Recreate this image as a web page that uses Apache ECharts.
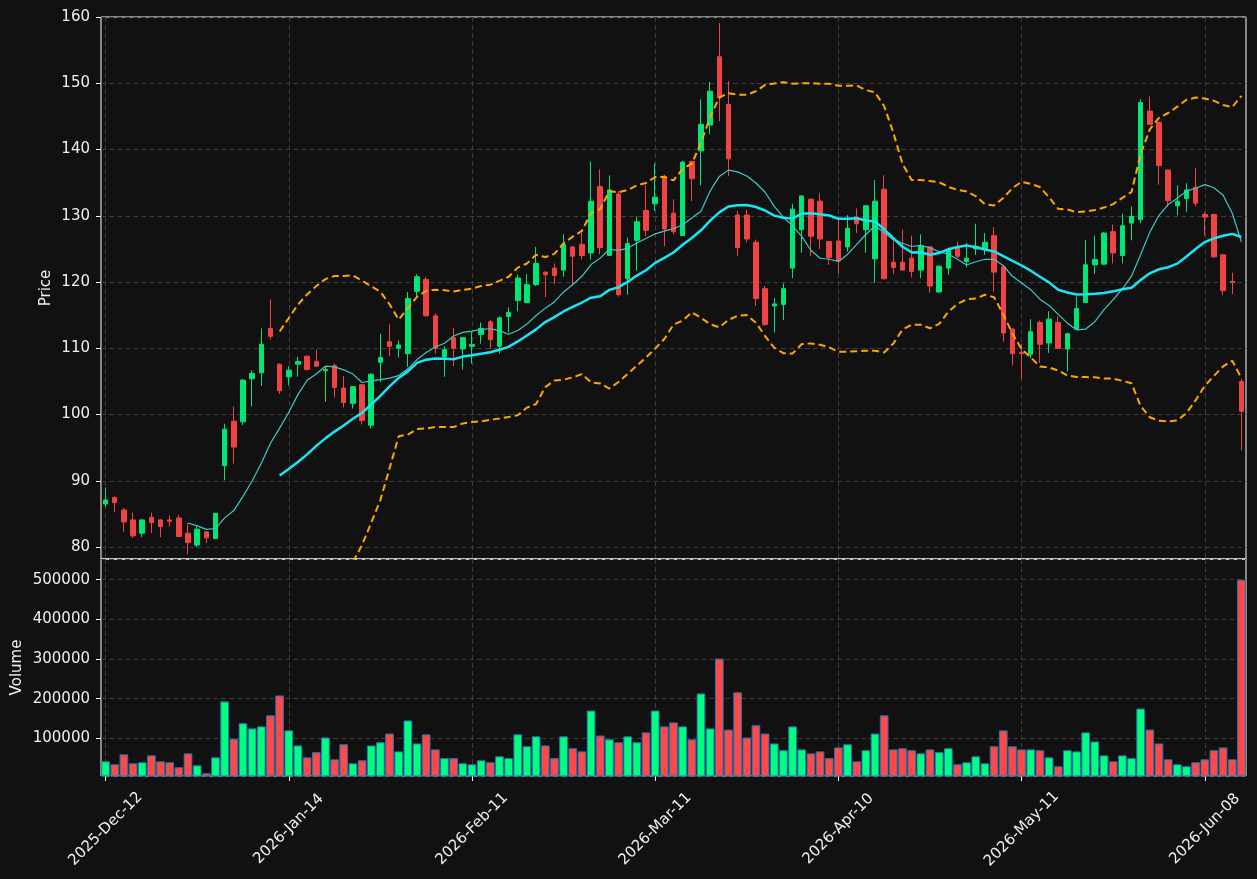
<!DOCTYPE html>
<html>
<head>
<meta charset="utf-8">
<script src="https://cdn.jsdelivr.net/npm/echarts@6/dist/echarts.min.js"></script>
<style>
html, body { margin: 0; padding: 0; background: #111111; }
#chart { width: 1257px; height: 879px; }
</style>
</head>
<body>
<div id="chart"></div>
<script>
// x axis tick labels, one every 20 sessions
const tickLabels = ['2025-Dec-12', '2026-Jan-14', '2026-Feb-11', '2026-Mar-11', '2026-Apr-10', '2026-May-11', '2026-Jun-08'];
const startDate = [2025, 11, 12];
const holidays = ['2025-12-25', '2025-12-26', '2026-01-01', '2026-04-03', '2026-04-06', '2026-05-01'];

const opens = [
  86.5, 87.5, 85.6, 84.1, 82.1, 84.5, 84.1, 84.1, 84.4, 82.1,
  80.3, 82.3, 81.3, 92.3, 99.0, 98.9, 105.4, 106.3, 113.0, 107.6,
  105.7, 107.6, 108.8, 108.0, 106.6, 107.4, 104.0, 101.7, 104.5, 98.4,
  107.9, 111.0, 110.0, 109.2, 118.6, 120.4, 114.9, 108.7, 111.6, 109.9,
  110.3, 112.1, 114.0, 110.3, 114.8, 117.2, 116.9, 119.6, 121.5, 122.1,
  121.8, 125.3, 125.7, 124.4, 134.4, 124.0, 133.3, 120.5, 126.3, 130.8,
  131.8, 135.7, 130.4, 127.0, 138.2, 139.8, 143.7, 154.0, 146.8, 130.1,
  130.1, 126.0, 119.0, 116.4, 116.6, 122.1, 127.9, 132.5, 132.2, 126.1,
  126.2, 125.3, 129.8, 127.9, 123.5, 134.0, 123.0, 123.0, 123.6, 121.8,
  125.3, 118.5, 122.1, 125.2, 123.1, 125.0, 124.9, 127.0, 122.3, 112.9,
  109.4, 109.1, 113.9, 110.8, 113.9, 109.9, 112.9, 116.9, 122.6, 122.7,
  127.6, 124.0, 128.9, 129.4, 145.8, 144.1, 136.9, 131.5, 132.6, 134.3,
  130.2, 130.2, 124.1, 120.1, 105.0
];
const closes = [
  87.1, 86.7, 83.8, 81.7, 84.1, 83.7, 83.1, 83.9, 81.6, 80.7,
  82.7, 81.4, 85.1, 97.8, 95.1, 105.2, 106.2, 110.6, 111.8, 103.6,
  106.7, 108.0, 106.8, 107.3, 106.8, 104.1, 101.8, 104.2, 99.1, 106.1,
  108.6, 110.3, 110.5, 117.5, 120.8, 114.9, 110.0, 109.8, 110.0, 111.6,
  110.6, 113.0, 111.3, 114.6, 115.4, 120.6, 119.6, 122.8, 121.1, 121.0,
  125.7, 123.9, 124.0, 132.2, 125.2, 133.9, 118.1, 125.8, 129.1, 127.8,
  132.8, 128.0, 127.6, 138.1, 135.6, 143.8, 148.8, 147.8, 138.6, 125.2,
  126.5, 117.5, 113.6, 116.7, 119.0, 131.0, 133.0, 126.9, 126.5, 123.7,
  123.2, 128.1, 128.8, 131.5, 132.2, 120.5, 122.2, 121.8, 121.6, 125.4,
  119.4, 122.4, 124.9, 123.9, 123.6, 125.4, 126.0, 121.5, 112.3, 109.2,
  109.2, 112.5, 110.6, 114.4, 110.0, 112.2, 116.0, 122.6, 123.4, 127.4,
  124.4, 128.5, 129.9, 147.1, 143.8, 137.6, 132.3, 132.2, 133.9, 131.9,
  129.8, 123.8, 118.7, 119.9, 100.5
];
const highs = [
  89.0, 87.6, 85.9, 85.2, 84.2, 85.2, 84.2, 84.8, 84.9, 83.6,
  83.1, 82.4, 85.1, 98.6, 101.2, 105.3, 106.7, 113.0, 117.4, 107.7,
  107.3, 108.7, 108.9, 109.8, 107.3, 107.7, 105.8, 104.3, 104.6, 106.2,
  112.2, 113.6, 111.2, 118.5, 121.2, 120.8, 115.3, 110.3, 113.1, 111.7,
  112.5, 113.9, 114.3, 114.8, 116.2, 121.1, 121.2, 125.3, 121.6, 122.8,
  127.2, 125.4, 127.4, 138.2, 137.0, 136.1, 133.7, 126.7, 129.9, 134.6,
  137.9, 136.2, 132.5, 138.3, 138.3, 147.6, 150.2, 159.1, 150.3, 130.7,
  130.9, 126.4, 119.4, 117.6, 119.8, 131.8, 133.1, 132.6, 133.4, 126.2,
  129.6, 130.1, 131.1, 131.6, 135.4, 136.1, 126.2, 127.9, 127.0, 127.2,
  125.4, 122.5, 125.2, 126.1, 125.9, 128.8, 127.4, 128.3, 122.4, 113.0,
  110.7, 114.4, 114.2, 115.6, 114.8, 112.3, 117.8, 126.3, 127.0, 127.5,
  128.7, 130.3, 131.4, 147.6, 148.0, 144.2, 137.0, 134.6, 134.9, 137.2,
  130.6, 130.3, 124.2, 121.4, 105.4
];
const lows = [
  86.0, 85.3, 82.3, 81.4, 81.5, 82.1, 81.5, 83.1, 81.5, 78.9,
  80.0, 80.6, 81.2, 90.1, 92.6, 98.4, 101.2, 104.3, 111.3, 103.1,
  104.4, 105.7, 106.6, 107.2, 101.9, 102.6, 101.1, 100.9, 98.5, 97.9,
  104.9, 108.8, 108.6, 107.2, 117.8, 114.8, 109.2, 105.7, 107.3, 106.8,
  107.7, 110.7, 109.9, 109.2, 112.4, 115.6, 116.8, 119.4, 117.7, 119.7,
  120.8, 119.7, 123.4, 123.4, 124.2, 123.9, 117.8, 118.1, 121.7, 126.9,
  130.7, 125.4, 127.2, 127.0, 132.2, 134.6, 142.3, 144.3, 136.0, 123.9,
  126.0, 116.4, 113.4, 112.4, 114.3, 120.6, 124.4, 123.9, 125.0, 122.6,
  121.3, 124.6, 127.4, 124.4, 119.9, 120.4, 121.2, 121.7, 120.7, 120.6,
  118.4, 118.4, 121.1, 123.6, 122.2, 124.1, 124.1, 118.5, 111.0, 107.4,
  105.4, 108.5, 107.8, 109.3, 109.9, 106.5, 112.8, 116.8, 121.2, 122.6,
  122.8, 122.8, 126.3, 128.9, 143.7, 134.7, 131.4, 130.1, 130.6, 131.4,
  127.0, 123.7, 118.0, 118.2, 94.6
];
const volumes = [
  42000, 34500, 59600, 37000, 39600, 57000, 42000, 39600, 27000, 62000,
  32000, 12000, 52000, 193000, 99000, 138000, 125000, 130000, 158000, 208000,
  120000, 82000, 52000, 65000, 102000, 47000, 85000, 37000, 44600, 82000,
  90000, 112000, 67000, 145000, 87000, 110000, 72000, 50000, 50000, 37000,
  34500, 44600, 39600, 54600, 50000, 110000, 80000, 105000, 82000, 50000,
  105000, 75000, 67000, 170000, 107000, 97500, 90000, 105000, 90000, 115000,
  170000, 130000, 140000, 130000, 97500, 213000, 125000, 301000, 122000, 216000,
  102000, 133000, 112000, 87000, 70000, 130000, 72000, 62000, 67000, 50000,
  77000, 85000, 42000, 70000, 112000, 158000, 72000, 75000, 70000, 62000,
  72000, 65000, 75000, 34500, 39600, 54600, 37000, 80000, 120000, 80000,
  72000, 72000, 70000, 52000, 29500, 70000, 67000, 115000, 92000, 57000,
  42000, 57000, 50000, 175000, 122000, 87000, 47000, 34500, 29500, 39600,
  47000, 70000, 77000, 47000, 500000
];

const UP = '#00e676';
const DOWN = '#f04444';
const GRID_LINE = { color: '#3d3d3d', type: [5, 3], width: 1 };
const TEXT = '#f0f0f0';
const FONT = 15;

// trading session dates
const MONTHS = ['Jan', 'Feb', 'Mar', 'Apr', 'May', 'Jun', 'Jul', 'Aug', 'Sep', 'Oct', 'Nov', 'Dec'];
const dates = [];
(function () {
  const d = new Date(Date.UTC(startDate[0], startDate[1], startDate[2]));
  while (dates.length < closes.length) {
    const iso = d.toISOString().slice(0, 10);
    const wd = d.getUTCDay();
    if (wd !== 0 && wd !== 6 && holidays.indexOf(iso) < 0) {
      dates.push(d.getUTCFullYear() + '-' + MONTHS[d.getUTCMonth()] + '-' + iso.slice(8, 10));
    }
    d.setUTCDate(d.getUTCDate() + 1);
  }
})();

// rolling indicators from the closes
function rolling(n, fn) {
  return closes.map((_, i) => {
    if (i < n - 1) return null;
    const w = closes.slice(i - n + 1, i + 1);
    return +fn(w).toFixed(3);
  });
}
const mean = w => w.reduce((a, b) => a + b, 0) / w.length;
const std = w => {
  const m = mean(w);
  return Math.sqrt(w.reduce((a, b) => a + (b - m) * (b - m), 0) / (w.length - 1));
};
const ma10 = rolling(10, mean);
const ma20 = rolling(20, mean);
const bbUpper = rolling(20, w => mean(w) + 2 * std(w));
const bbLower = rolling(20, w => mean(w) - 2 * std(w));

const ohlc = opens.map((o, i) => [o, closes[i], lows[i], highs[i]]);
const volData = volumes.map((v, i) => ({
  value: v,
  itemStyle: { color: closes[i] >= opens[i] ? '#00ff80' : '#ff4848' }
}));

const chart = echarts.init(document.getElementById('chart'));
chart.setOption({
  backgroundColor: '#111111',
  animation: false,
  textStyle: { fontFamily: 'DejaVu Sans' },
  grid: [
    { left: 101, right: 11, top: 17, height: 542, show: true, borderColor: '#ffffff', borderWidth: 1, backgroundColor: 'transparent' },
    { left: 101, right: 11, top: 559, height: 217, show: true, borderColor: '#ffffff', borderWidth: 1, backgroundColor: 'transparent' }
  ],
  xAxis: [
    {
      type: 'category', gridIndex: 0, data: dates, boundaryGap: true,
      axisLine: { show: false }, axisTick: { show: false }, axisLabel: { show: false },
      splitLine: { show: true, interval: 19, alignWithLabel: true, lineStyle: GRID_LINE }
    },
    {
      type: 'category', gridIndex: 1, data: dates, boundaryGap: true,
      axisLine: { show: false },
      axisTick: { show: true, interval: 19, alignWithLabel: true, length: 5, lineStyle: { color: '#ffffff' } },
      axisLabel: {
        interval: 19, rotate: 45, align: 'center', verticalAlign: 'middle', margin: 53,
        color: TEXT, fontSize: FONT,
        formatter: (v, i) => tickLabels[Math.round(i / 20)] || v
      },
      splitLine: { show: true, interval: 19, alignWithLabel: true, lineStyle: GRID_LINE }
    }
  ],
  yAxis: [
    {
      type: 'value', gridIndex: 0, min: 78.2, max: 160, splitNumber: 8,
      name: 'Price', nameLocation: 'middle', nameGap: 47, nameMoveOverlap: false,
      nameTextStyle: { color: TEXT, fontSize: FONT },
      axisLine: { show: false },
      axisTick: { show: true, length: 5, lineStyle: { color: '#ffffff' } },
      axisLabel: { color: TEXT, fontSize: FONT, margin: 11, showMinLabel: false },
      splitLine: { lineStyle: GRID_LINE }
    },
    {
      type: 'value', gridIndex: 1, min: 5000, max: 552000, splitNumber: 5,
      name: 'Volume', nameLocation: 'middle', nameGap: 76, nameMoveOverlap: false,
      nameTextStyle: { color: TEXT, fontSize: FONT },
      axisLine: { show: false },
      axisTick: { show: true, length: 5, lineStyle: { color: '#ffffff' } },
      axisLabel: {
        color: TEXT, fontSize: FONT, margin: 11, showMinLabel: false, showMaxLabel: false,
        formatter: v => String(v)
      },
      splitLine: { lineStyle: GRID_LINE }
    }
  ],
  series: [
    {
      name: 'OHLC', type: 'candlestick', xAxisIndex: 0, yAxisIndex: 0, data: ohlc, barWidth: 5,
      itemStyle: { color: UP, color0: DOWN, borderColor: UP, borderColor0: DOWN, borderWidth: 1 }
    },
    {
      name: 'MA10', type: 'line', xAxisIndex: 0, yAxisIndex: 0, data: ma10, showSymbol: false,
      lineStyle: { color: '#40c8c8', width: 1.2 }
    },
    {
      name: 'MA20', type: 'line', xAxisIndex: 0, yAxisIndex: 0, data: ma20, showSymbol: false,
      lineStyle: { color: '#19e6f5', width: 2.5 }
    },
    {
      name: 'BB Upper', type: 'line', xAxisIndex: 0, yAxisIndex: 0, data: bbUpper, showSymbol: false,
      lineStyle: { color: '#ffa500', width: 2, type: [7, 4] }
    },
    {
      name: 'BB Lower', type: 'line', xAxisIndex: 0, yAxisIndex: 0, data: bbLower, showSymbol: false,
      lineStyle: { color: '#ffa500', width: 2, type: [7, 4] }
    },
    {
      name: 'Volume', type: 'bar', xAxisIndex: 1, yAxisIndex: 1, data: volData, barWidth: '95%',
      itemStyle: { borderColor: '#1f77b4', borderWidth: 1 }
    }
  ]
});
</script>
</body>
</html>
